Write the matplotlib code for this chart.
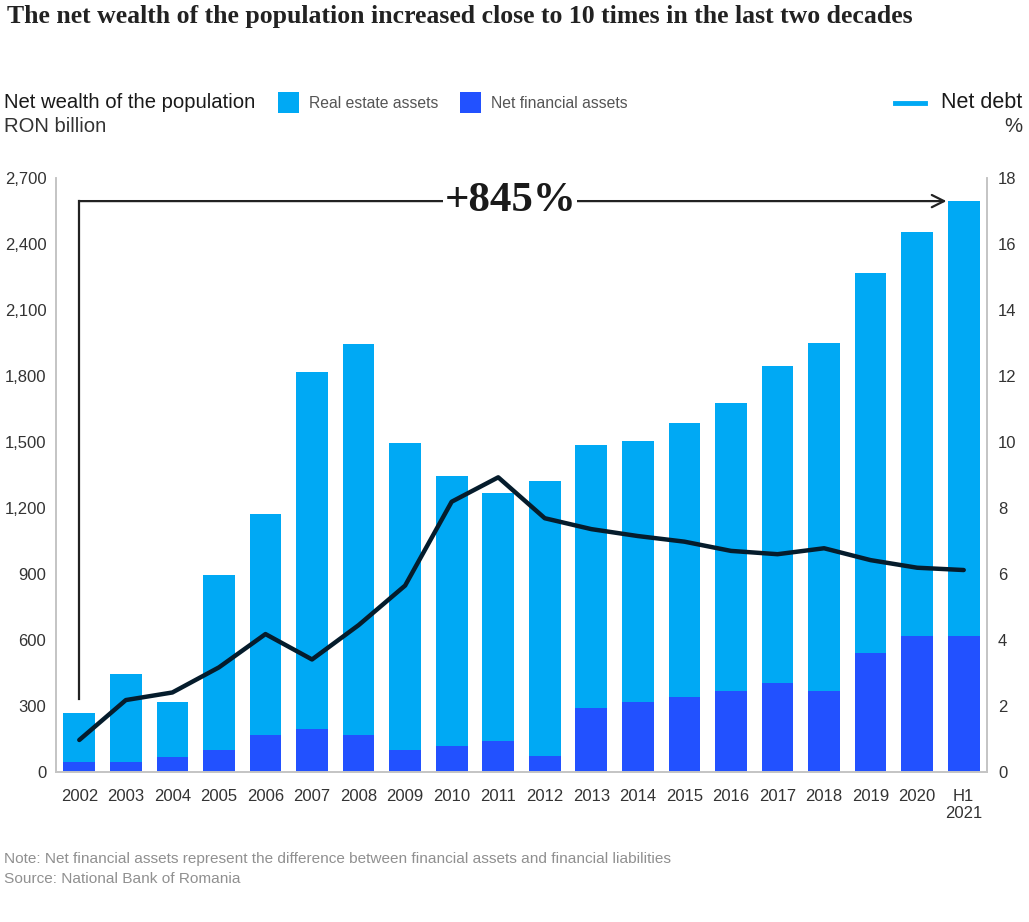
import matplotlib
matplotlib.use("Agg")
import matplotlib.pyplot as plt
from matplotlib.patches import Rectangle
from matplotlib.lines import Line2D

years = ["2002", "2003", "2004", "2005", "2006", "2007", "2008", "2009", "2010", "2011",
         "2012", "2013", "2014", "2015", "2016", "2017", "2018", "2019", "2020", "H1\n2021"]
net_wealth = [267, 444, 320, 895, 1171, 1819, 1947, 1495, 1345, 1270,
              1324, 1486, 1504, 1585, 1676, 1845, 1951, 2269, 2456, 2595]
net_financial = [44, 44, 70, 100, 168, 194, 168, 100, 120, 142,
                 74, 292, 318, 341, 368, 403, 368, 542, 618, 618]
net_debt = [0.97, 2.18, 2.41, 3.17, 4.18, 3.41, 4.45, 5.65, 8.19, 8.93,
            7.69, 7.36, 7.15, 6.98, 6.70, 6.60, 6.78, 6.42, 6.19, 6.12]
real_estate = [w - f for w, f in zip(net_wealth, net_financial)]

light = "#00a9f4"
dark = "#2251ff"
navy = "#051c2c"
sans = ["Liberation Sans", "DejaVu Sans"]
serif = ["Liberation Serif", "DejaVu Serif"]

W, H = 1029, 922
fig = plt.figure(figsize=(W / 100, H / 100), dpi=100)
ax = fig.add_axes([56 / W, 1 - 772 / H, (987 - 56) / W, (772 - 178) / H])

x = list(range(len(years)))
ax.bar(x, net_financial, width=0.68, color=dark, zorder=2)
ax.bar(x, real_estate, width=0.68, bottom=net_financial, color=light, zorder=2)
ax.set_xlim(-0.5, len(years) - 0.5)
ax.set_ylim(0, 2700)
ax.set_yticks(range(0, 2701, 300))
ax.set_yticklabels([f"{v:,}" for v in range(0, 2701, 300)])
ax.set_xticks(x)
ax.set_xticklabels(years)

ax2 = ax.twinx()
ax2.plot(x, net_debt, color=navy, lw=3.2, zorder=3, solid_capstyle="round")
ax2.set_ylim(0, 18)
ax2.set_yticks(range(0, 19, 2))

for a in (ax, ax2):
    a.spines["top"].set_visible(False)
    for s in ("left", "right", "bottom"):
        a.spines[s].set_color("#c4c4c4")
        a.spines[s].set_linewidth(1.2)
    a.tick_params(length=0, labelsize=12, labelcolor="#333333")
    for lbl in a.get_xticklabels() + a.get_yticklabels():
        lbl.set_family(sans)
ax.tick_params(axis="y", pad=7)
ax.tick_params(axis="x", pad=12)
ax2.tick_params(axis="y", pad=8)

# +845% bracket
top = net_wealth[-1]
ax.plot([0, 0], [330, top], color="#222222", lw=1.6, zorder=4)
ax.annotate("", xy=(len(years) - 1 - 0.37, top), xytext=(0, top),
            arrowprops=dict(arrowstyle="->", color="#222222", lw=1.6,
                            shrinkA=0, shrinkB=0, mutation_scale=22), zorder=4)
ax.text(9.26, top, "+845%", ha="center", va="center", fontsize=31, fontweight="bold",
        family=serif, color="#1a1a1a", zorder=5,
        bbox=dict(facecolor="white", edgecolor="none", pad=1))

# header texts
fig.text(7 / W, 1 - 16 / H, "The net wealth of the population increased close to 10 times in the last two decades",
         ha="left", va="center", fontsize=18.5, fontweight="bold", family=serif, color="#222222")
fig.text(4 / W, 1 - 103 / H, "Net wealth of the population", ha="left", va="center",
         fontsize=14.6, family=sans, color="#1a1a1a")
fig.text(4 / W, 1 - 127 / H, "RON billion", ha="left", va="center",
         fontsize=14.6, family=sans, color="#333333")
fig.text(1022 / W, 1 - 103 / H, "Net debt", ha="right", va="center",
         fontsize=15.5, family=sans, color="#1a1a1a")
fig.text(1022 / W, 1 - 127 / H, "%", ha="right", va="center",
         fontsize=14.6, family=sans, color="#333333")

# legend
for x0, col, lab in [(278, light, "Real estate assets"), (460, dark, "Net financial assets")]:
    fig.patches.append(Rectangle((x0 / W, 1 - 113 / H), 21 / W, 21 / H, transform=fig.transFigure,
                                 facecolor=col, edgecolor="none"))
    fig.text((x0 + 31) / W, 1 - 103 / H, lab, ha="left", va="center",
             fontsize=11.3, family=sans, color="#555555")
fig.lines.append(Line2D([895 / W, 925 / W], [1 - 103 / H, 1 - 103 / H], transform=fig.transFigure,
                        color=light, lw=3.5))

# footer
fig.text(4 / W, 1 - 859 / H, "Note: Net financial assets represent the difference between financial assets and financial liabilities",
         ha="left", va="center", fontsize=11.1, family=sans, color="#909090")
fig.text(4 / W, 1 - 879 / H, "Source: National Bank of Romania", ha="left", va="center",
         fontsize=11.1, family=sans, color="#909090")

fig.savefig("out.png", dpi=100, facecolor="white")
